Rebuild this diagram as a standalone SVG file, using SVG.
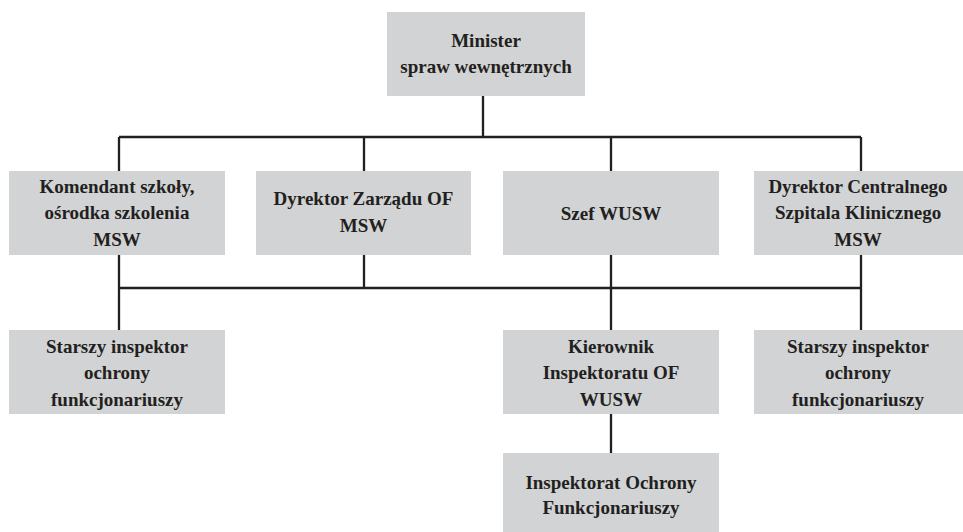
<svg xmlns="http://www.w3.org/2000/svg" width="963" height="532" viewBox="0 0 963 532">
<style>
.box{fill:#d1d3d4;}
.t{font-family:'Liberation Serif','Times New Roman',Times,serif;font-weight:700;font-size:19px;fill:#231f20;text-anchor:middle;}
.c{stroke:#231f20;stroke-width:2.3;fill:none;}
</style>
<rect width="963" height="532" fill="#ffffff"/>
<g id="connectors">
<path class="c" d="M483 96V137M119 137H861M119 137V171M364 137V171M611 137V171M861 137V171"/>
<path class="c" d="M119 255V330M364 255V288M611 255V330M861 255V330M119 288H861M611 414V453"/>
</g>
<g id="minister">
<rect class="box" x="387" y="12" width="198" height="84"/>
<text class="t" x="486" y="46.5">Minister</text>
<text class="t" x="486" y="72.5">spraw wewnętrznych</text>
</g>
<g id="komendant">
<rect class="box" x="9" y="171" width="216" height="84"/>
<text class="t" x="117" y="193">Komendant szkoły,</text>
<text class="t" x="117" y="219">ośrodka szkolenia</text>
<text class="t" x="117" y="246">MSW</text>
</g>
<g id="dyrektor-zarzadu">
<rect class="box" x="256" y="171" width="215" height="84"/>
<text class="t" x="363.5" y="205">Dyrektor Zarządu OF</text>
<text class="t" x="363.5" y="231.5">MSW</text>
</g>
<g id="szef-wusw">
<rect class="box" x="503" y="171" width="216" height="84"/>
<text class="t" x="611" y="220">Szef WUSW</text>
</g>
<g id="dyrektor-szpitala">
<rect class="box" x="754" y="171" width="209" height="84"/>
<text class="t" x="858" y="193">Dyrektor Centralnego</text>
<text class="t" x="858" y="219">Szpitala Klinicznego</text>
<text class="t" x="858" y="246">MSW</text>
</g>
<g id="starszy-lewy">
<rect class="box" x="9" y="330" width="216" height="84"/>
<text class="t" x="117" y="352.5">Starszy inspektor</text>
<text class="t" x="117" y="379">ochrony</text>
<text class="t" x="117" y="406">funkcjonariuszy</text>
</g>
<g id="kierownik">
<rect class="box" x="503" y="330" width="216" height="84"/>
<text class="t" x="611" y="352.5">Kierownik</text>
<text class="t" x="611" y="379">Inspektoratu OF</text>
<text class="t" x="611" y="406">WUSW</text>
</g>
<g id="starszy-prawy">
<rect class="box" x="754" y="330" width="209" height="84"/>
<text class="t" x="858" y="352.5">Starszy inspektor</text>
<text class="t" x="858" y="379">ochrony</text>
<text class="t" x="858" y="406">funkcjonariuszy</text>
</g>
<g id="inspektorat">
<rect class="box" x="503" y="453" width="216" height="79"/>
<text class="t" x="611" y="489">Inspektorat Ochrony</text>
<text class="t" x="611" y="514">Funkcjonariuszy</text>
</g>
</svg>
